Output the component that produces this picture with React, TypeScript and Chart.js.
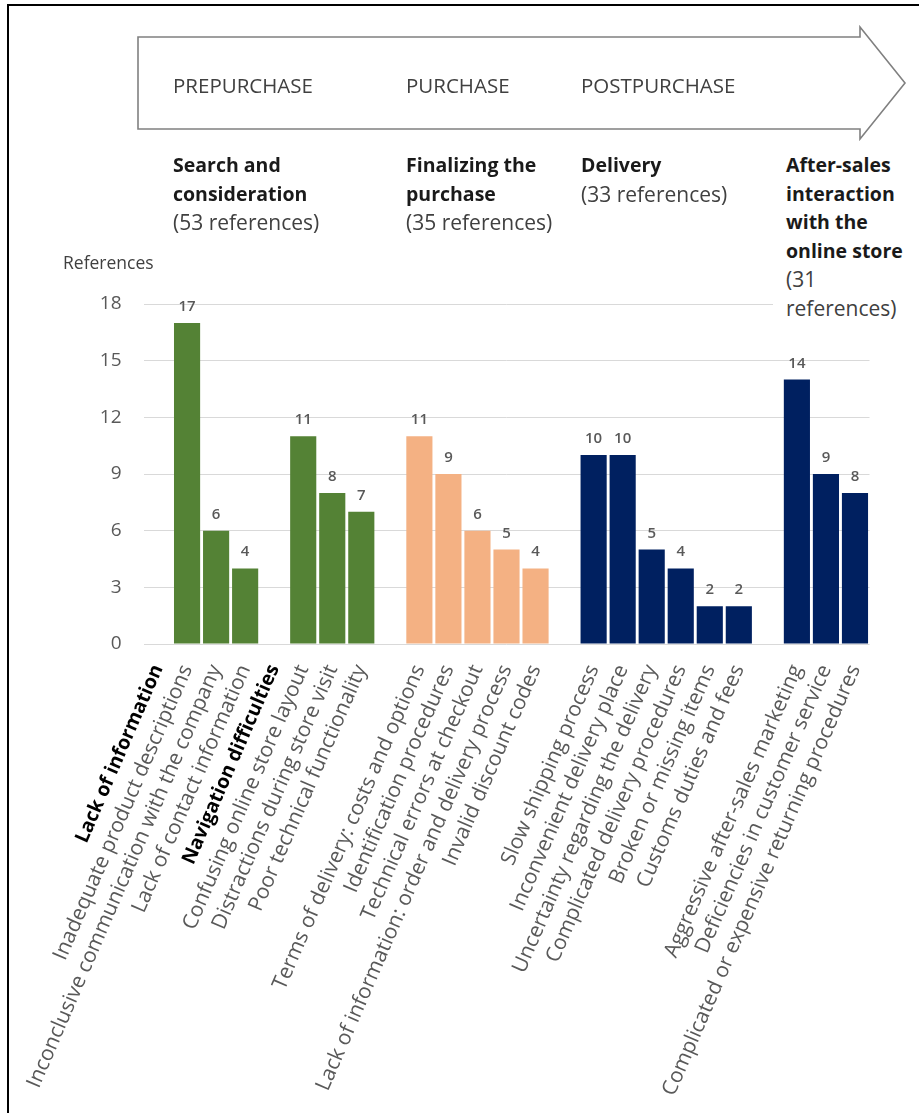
import React, { useEffect, useRef } from "react";
import { Chart, registerables } from "chart.js";

Chart.register(...registerables);

const categories: string[] = [
  "Lack of information",
  "Inadequate product descriptions",
  "Inconclusive communication with the company",
  "Lack of contact information",
  "Navigation difficulties",
  "Confusing online store layout",
  "Distractions during store visit",
  "Poor technical functionality",
  "",
  "Terms of delivery: costs and options",
  "Identification procedures",
  "Technical errors at checkout",
  "Lack of information: order and delivery process",
  "Invalid discount codes",
  "",
  "Slow shipping process",
  "Inconvenient delivery place",
  "Uncertainty regarding the delivery",
  "Complicated delivery procedures",
  "Broken or missing items",
  "Customs duties and fees",
  "",
  "Aggressive after-sales marketing",
  "Deficiencies in customer service",
  "Complicated or expensive returning procedures",
];

const values: (number | null)[] = [
  null, 17, 6, 4, null, 11, 8, 7, null, 11, 9, 6, 5, 4, null, 10, 10, 5, 4, 2, 2, null, 14, 9, 8,
];

const stages: string[] = [
  "search", "search", "search", "search", "search", "search", "search", "search", "",
  "finalizing", "finalizing", "finalizing", "finalizing", "finalizing", "",
  "delivery", "delivery", "delivery", "delivery", "delivery", "delivery", "",
  "aftersales", "aftersales", "aftersales",
];

const subHeadings: string[] = ["Lack of information", "Navigation difficulties"];

const yTicks: number[] = [0, 3, 6, 9, 12, 15, 18];

const phases: string[] = ["PREPURCHASE", "PURCHASE", "POSTPURCHASE"];

const stageTitles: string[][] = [
  ["Search and", "consideration"],
  ["Finalizing the", "purchase"],
  ["Delivery"],
  ["After-sales", "interaction", "with the", "online store"],
];
const stageRefs: string[][] = [
  ["(53 references)"],
  ["(35 references)"],
  ["(33 references)"],
  ["(31", "references)"],
];

const stageColors: Record<string, string> = {
  search: "#548235",
  finalizing: "#F4B183",
  delivery: "#002060",
  aftersales: "#002060",
};

const FONT = "'Open Sans', 'Noto Sans', sans-serif";

export default function App() {
  const canvasRef = useRef<HTMLCanvasElement | null>(null);

  useEffect(() => {
    const canvas = canvasRef.current;
    if (!canvas) return;

    const dataLabels = {
      id: "dataLabels",
      afterDatasetsDraw(chart: any) {
        const ctx = chart.ctx;
        const meta = chart.getDatasetMeta(0);
        ctx.save();
        ctx.font = `600 15px ${FONT}`;
        ctx.fillStyle = "#595959";
        ctx.textAlign = "center";
        ctx.textBaseline = "alphabetic";
        meta.data.forEach((bar: any, i: number) => {
          const v = values[i];
          if (v == null) return;
          ctx.fillText(String(v), bar.x, bar.y - 12);
        });
        ctx.restore();
      },
    };

    const chart = new Chart(canvas, {
      type: "bar",
      data: {
        labels: categories,
        datasets: [
          {
            data: values as any,
            backgroundColor: stages.map((s) => stageColors[s] || "#ffffff"),
            borderWidth: 0,
            barPercentage: 0.9,
            categoryPercentage: 1,
          },
        ],
      },
      options: {
        responsive: false,
        animation: false,
        devicePixelRatio: 1,
        layout: { padding: { top: 304, left: 0, right: 49.5, bottom: 0 } },
        plugins: { legend: { display: false }, tooltip: { enabled: false } },
        scales: {
          x: {
            grid: { display: false, drawTicks: false },
            border: { display: false },
            ticks: {
              autoSkip: false,
              minRotation: 66.5,
              maxRotation: 66.5,
              padding: 17,
              color: (ctx: any) =>
                subHeadings.includes(categories[ctx.index]) ? "#000000" : "#595959",
              font: (ctx: any) =>
                subHeadings.includes(categories[ctx.index])
                  ? { family: FONT, size: 19.5, weight: "bold" }
                  : { family: FONT, size: 21, weight: "normal" },
            },
            afterFit: (s: any) => {
              s.height = 1113 - 644;
              s.paddingLeft = 0;
              s.paddingRight = 0;
            },
          },
          y: {
            min: 0,
            max: 18,
            afterBuildTicks: (s: any) => {
              s.ticks = yTicks.map((v) => ({ value: v }));
            },
            grid: { color: "#d9d9d9", lineWidth: 1, drawTicks: false },
            border: { display: false },
            ticks: {
              padding: 22,
              color: "#595959",
              font: { family: FONT, size: 19 },
            },
            afterFit: (s: any) => {
              s.width = 143.5;
              s.paddingTop = 0;
              s.paddingBottom = 0;
            },
          },
        },
      },
      plugins: [dataLabels],
    });

    return () => chart.destroy();
  }, []);

  const headTop = 151;
  const lh = 28.6;
  const stageX = [173, 406, 581, 786];
  const phaseX = [173, 406, 581];

  return (
    <div
      style={{
        position: "absolute",
        left: 0,
        top: 0,
        width: 919,
        height: 1113,
        background: "#ffffff",
        overflow: "hidden",
        fontFamily: FONT,
      }}
    >
      <canvas
        ref={canvasRef}
        width={919}
        height={1113}
        style={{ position: "absolute", left: 0, top: 0, width: 919, height: 1113 }}
      />
      <div
        style={{
          position: "absolute",
          left: 7,
          top: 4,
          width: 919,
          height: 1113,
          borderLeft: "2px solid #000",
          borderTop: "2px solid #000",
          pointerEvents: "none",
        }}
      />
      <svg
        width={919}
        height={160}
        style={{ position: "absolute", left: 0, top: 0 }}
      >
        <polygon
          points="138,37 860,37 860,27 905,83 860,139 860,129 138,129"
          fill="#ffffff"
          stroke="#808080"
          strokeWidth={1.6}
        />
      </svg>
      {phases.map((p, i) => (
        <div
          key={p}
          style={{
            position: "absolute",
            left: phaseX[i],
            top: 75,
            fontSize: 20.5,
            lineHeight: "20px",
            color: "#404040",
            whiteSpace: "nowrap",
          }}
        >
          {p}
        </div>
      ))}
      {stageTitles.map((lines, i) => (
        <div
          key={i}
          style={{
            position: "absolute",
            left: i === 3 ? 773 : stageX[i],
            paddingLeft: i === 3 ? 13 : 0,
            paddingRight: i === 3 ? 6 : 0,
            top: headTop,
            fontSize: 21,
            lineHeight: `${lh}px`,
            whiteSpace: "nowrap",
            background: i === 3 ? "#ffffff" : "transparent",
          }}
        >
          {lines.map((l) => (
            <div key={l} style={{ fontWeight: 700, color: "#1a1a1a", fontSize: 19.5 }}>
              {l}
            </div>
          ))}
          {stageRefs[i].map((l) => (
            <div key={l} style={{ color: "#404040" }}>
              {l}
            </div>
          ))}
        </div>
      ))}
      <div
        style={{
          position: "absolute",
          left: 63,
          top: 252,
          fontSize: 17.5,
          lineHeight: "20px",
          color: "#404040",
          whiteSpace: "nowrap",
        }}
      >
        References
      </div>
    </div>
  );
}
